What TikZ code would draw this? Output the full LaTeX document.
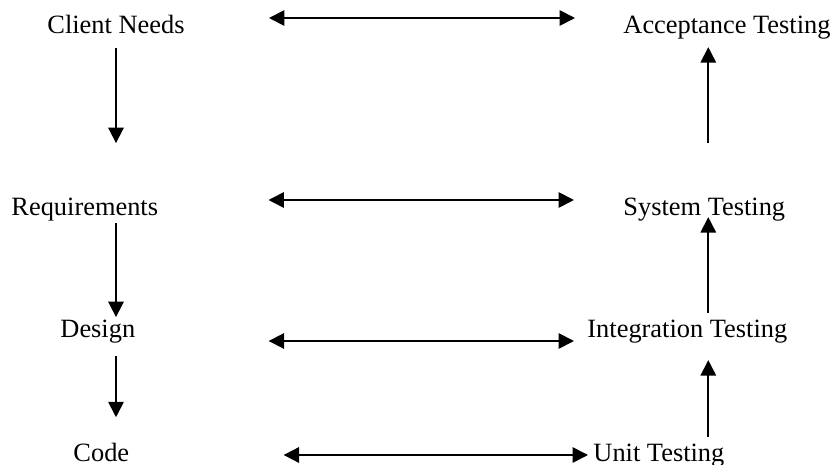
\documentclass[tikz,border=0pt]{standalone}
\usepackage{fontspec}
\setmainfont{Liberation Serif}
\usetikzlibrary{arrows.meta}
\newdimen\pix
\pix=0.4545pt
\begin{document}
\begin{tikzpicture}[x=1\pix,y=-1\pix,
    stage/.style={anchor=base west,inner sep=0pt,font=\fontsize{12}{14}\selectfont},
    flow/.style={-{Triangle[length=7pt,width=7pt]},line width=0.8pt},
    match/.style={{Triangle[length=7pt,width=7pt]}-{Triangle[length=7pt,width=7pt]},line width=0.8pt}]
  \useasboundingbox (0,0) rectangle (835,465);
  \begin{scope}
    \node[stage] (cn) at (47,34) {Client Needs};
    \node[stage] (req) at (11,216) {Requirements};
    \node[stage] (des) at (60,338) {Design};
    \node[stage] (code) at (73,461) {Code};
  \end{scope}
  \begin{scope}
    \node[stage] (at) at (623,34) {Acceptance Testing};
    \node[stage] (st) at (623,216) {System Testing};
    \node[stage] (it) at (587,338) {Integration Testing};
    \node[stage] (ut) at (593,461) {Unit Testing};
  \end{scope}

  \draw[match] ([xshift=84\pix,yshift=16\pix]cn.base east) -- ([xshift=-48\pix,yshift=16\pix]at.base west);
  \draw[match] ([xshift=110\pix,yshift=16\pix]req.base east) -- ([xshift=-49\pix,yshift=16\pix]st.base west);
  \draw[match] ([xshift=133\pix,yshift=-3\pix]des.base east) -- ([xshift=-13\pix,yshift=-3\pix]it.base west);
  \draw[match] ([xshift=154\pix,yshift=6\pix]code.base east) -- ([xshift=-5\pix,yshift=6\pix]ut.base west);

  \draw[flow] ([yshift=-13\pix]cn.south) -- ([yshift=55\pix]cn.south |- req.north);
  \draw[flow] ([yshift=-1\pix]cn.south |- req.south) -- ([yshift=3\pix]cn.south |- des.north);
  \draw[flow] ([yshift=-12\pix]cn.south |- des.south) -- ([yshift=25\pix]cn.south |- code.north);

  \draw[flow] ([xshift=4\pix,yshift=55\pix]st.north) -- ([xshift=4\pix,yshift=-7\pix]st.north |- at.south);
  \draw[flow] ([xshift=4\pix,yshift=7\pix]st.south |- it.north) -- ([xshift=4\pix,yshift=5\pix]st.south);
  \draw[flow] ([xshift=4\pix,yshift=6\pix]st.south |- ut.north) -- ([xshift=4\pix,yshift=-16\pix]st.south |- it.south);
\end{tikzpicture}
\end{document}
